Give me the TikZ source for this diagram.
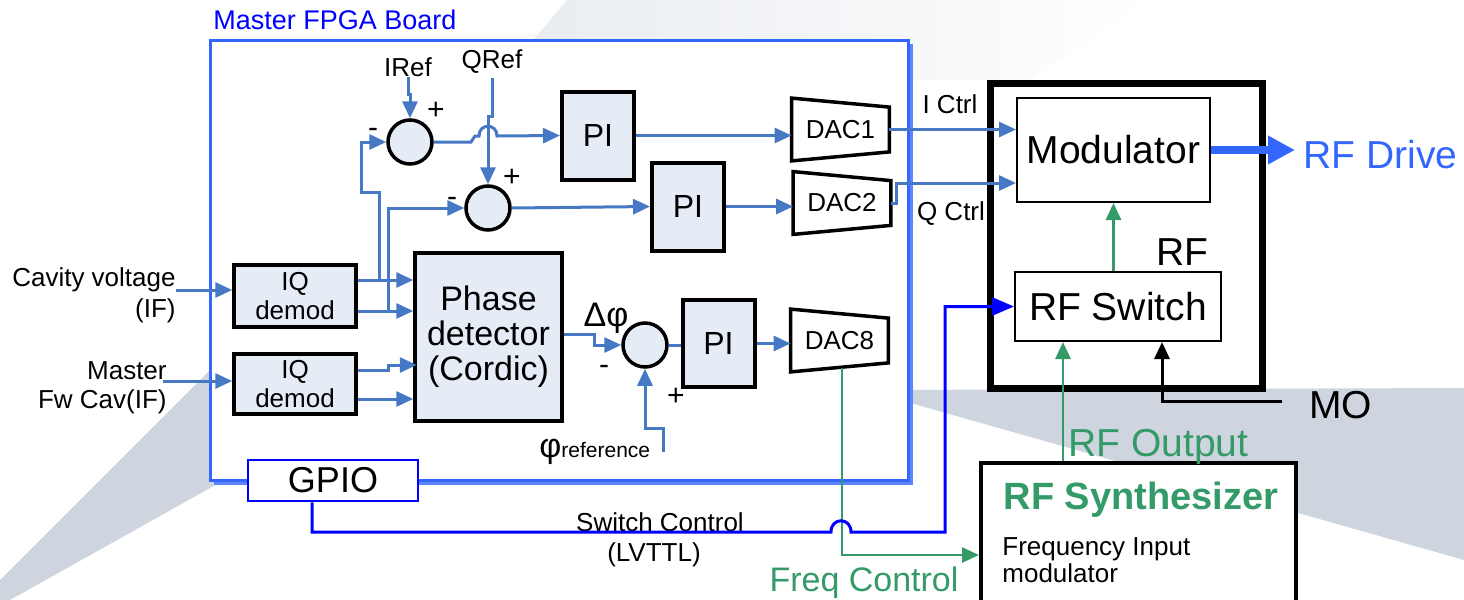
\documentclass[tikz,border=0pt]{standalone}
\usepackage{fontspec}
\setmainfont{Liberation Sans}
\usetikzlibrary{arrows.meta}
\usetikzlibrary{positioning}

\definecolor{sigblue}{RGB}{70,120,195}
\definecolor{boardblue}{RGB}{51,102,255}
\definecolor{ctrlblue}{RGB}{0,0,255}
\definecolor{rfgreen}{RGB}{52,154,103}
\definecolor{boxfill}{RGB}{230,236,246}
\definecolor{bggrey}{RGB}{206,213,223}

\begin{document}
\begin{tikzpicture}[x=0.5pt,y=-0.5pt,
  sig/.style={draw=sigblue,line width=1.5pt,-{Triangle[length=8.5pt,width=7.5pt]}},
  sigline/.style={draw=sigblue,line width=1.5pt},
  grn/.style={draw=rfgreen,line width=1.4pt,-{Triangle[length=8.5pt,width=7.5pt]}},
  blk/.style={draw=black,line width=1.5pt,-{Triangle[length=8.5pt,width=7.5pt]}},
  ctrl/.style={draw=ctrlblue,line width=1.5pt,-{Triangle[length=11pt,width=9pt]}},
  sumnode/.style={circle,draw,line width=1.75pt,fill=boxfill,minimum size=22pt,inner sep=0pt},
  piblock/.style={rectangle,draw,line width=2pt,fill=boxfill,minimum width=36pt,minimum height=44pt,inner sep=0pt,font=\fontsize{16}{18}\selectfont},
  dacblock/.style={rectangle,minimum width=48.5pt,minimum height=31pt,inner sep=0pt,font=\fontsize{13}{15}\selectfont},
  iqblock/.style={rectangle,draw,line width=1.75pt,fill=boxfill,minimum width=61pt,minimum height=31pt,inner sep=0pt,align=center,font=\fontsize{13}{14.5}\selectfont},
  whitebox/.style={rectangle,draw,line width=1pt,fill=white,inner sep=0pt,font=\fontsize{19.5}{22}\selectfont},
  lbl/.style={inner sep=0pt,font=\fontsize{13}{15}\selectfont},
  biglbl/.style={inner sep=0pt,font=\fontsize{19.5}{22}\selectfont},
  pm/.style={inner sep=0pt,font=\fontsize{15}{17}\selectfont}]
\useasboundingbox (0,0) rectangle (1464,600);

% slide background
\fill[bggrey] (0,580) -- (260,320) -- (260,460) -- (10,600) -- (0,600) -- cycle;
\fill[bggrey] (880,390) -- (1464,388) -- (1464,560) -- (900,400) -- cycle;
\shade[left color=bggrey!45,right color=white] (533,40) -- (567,0) -- (1150,0) -- (1030,80) -- (912,80) -- (912,40) -- cycle;

% FPGA board
\draw[boardblue!80,line width=1.5pt] (911.5,44) -- (911.5,483.5) -- (214,483.5);
\draw[boardblue,line width=1.5pt,fill=white] (210,40) rectangle (908,480);
\node[anchor=base west,inner sep=0pt,text=ctrlblue,font=\fontsize{13.5}{15}\selectfont] (title) at (213,29) {Master FPGA Board};
\node[draw=ctrlblue,line width=1.25pt,fill=white,minimum width=85pt,minimum height=20.5pt,inner sep=0pt,font=\fontsize{18}{20}\selectfont] (gpio) at (333,480.5) {GPIO};

% blocks
\node[iqblock] (iq1) at (295,296) {IQ\\demod};
\node[iqblock,minimum height=30pt] (iq2) at (295,384) {IQ\\demod};
\node[rectangle,draw,line width=1.75pt,fill=boxfill,minimum width=73.5pt,minimum height=84pt,inner sep=0pt,align=center,font=\fontsize{17}{17.5}\selectfont] (pd) at (488.5,337) {Phase\\detector\\(Cordic)};
\node[sumnode] (s1) at (410,142) {};
\node[sumnode] (s2) at (488,208) {};
\node[sumnode] (s3) at (645,345) {};
\node[piblock] (pi1) at (598,135.5) {PI};
\node[piblock] (pi2) at (688,206.5) {PI};
\node[piblock,minimum height=43.5pt] (pi3) at (718.5,343.5) {PI};
\node[dacblock] (dac1) at (840.5,129.5) {DAC1};
\node[dacblock] (dac2) at (842,203) {DAC2};
\node[dacblock] (dac8) at (839.5,340.5) {DAC8};
\foreach \d in {dac1,dac2,dac8}
  \draw[line width=1.75pt] (\d.north west) -- ([yshift=-4.5pt]\d.north east) -- ([yshift=4.5pt]\d.south east) -- (\d.south west) -- cycle;

% RF side
\node[draw,line width=3.5pt,minimum width=136pt,minimum height=152.5pt,inner sep=0pt] (rfbox) at (1126,235.5) {};
\node[whitebox,minimum width=96.5pt,minimum height=52pt] (mod) at (1113.5,150) {Modulator};
\node[whitebox,minimum width=103pt,minimum height=34.5pt] (sw) at (1118,306.5) {RF Switch};
\node[biglbl] (rflbl) at (1182,252) {RF};
\node[draw,line width=2pt,fill=white,minimum width=157.5pt,minimum height=76pt,inner sep=0pt] (synth) at (1138.5,539) {};
\node[inner sep=0pt,text=rfgreen,font=\bfseries\fontsize{19}{22}\selectfont] (synthname) at (1141,500) {RF Synthesizer};
\node[lbl,align=left,anchor=north west,font=\fontsize{13}{13.5}\selectfont] (synthsub) at (1002,537) {Frequency Input\\modulator};

% labels
\node[lbl,align=right,anchor=east,font=\fontsize{13}{15.5}\selectfont] (cav) at (176,295) {Cavity voltage\\(IF)};
\node[lbl,align=right,anchor=east,font=\fontsize{13}{14.5}\selectfont] (fw) at (167,388) {Master\\Fw Cav(IF)};
\node[lbl] (iref) at (408,67) {IRef};
\node[lbl] (qref) at (492,62) {QRef};
\node[pm] (p1) at (436,111) {+};
\node[pm] (m1) at (373,133) {-};
\node[pm] (p2) at (512,178) {+};
\node[pm] (m2) at (452,202) {-};
\node[pm] (m3) at (604,370) {-};
\node[pm] (p3) at (676,397) {+};
\node[inner sep=0pt,font=\fontsize{17}{19}\selectfont] (dphi) at (606,318) {Δφ};
\node[inner sep=0pt,anchor=base west,font=\fontsize{17}{19}\selectfont] (phiref) at (539,457) {φ{\fontsize{10.5}{12}\selectfont reference}};
\node[lbl] (ictrl) at (950,104) {I Ctrl};
\node[lbl] (qctrl) at (951,214) {Q Ctrl};
\node[lbl] (swctl) at (660,522) {Switch Control};
\node[lbl] (lvttl) at (654,555) {(LVTTL)};
\node[biglbl,text=boardblue,anchor=west] (rfd) at (1303,155) {RF Drive};
\node[biglbl,anchor=west] (mo) at (1309,405) {MO};
\node[biglbl,text=rfgreen,anchor=west] (rfout) at (1068,447) {RF Output};
\node[inner sep=0pt,text=rfgreen,font=\fontsize{17}{19}\selectfont] (fctl) at (864,583) {Freq Control};

% free ends
\coordinate (cavin) at (176,290);
\coordinate (fwin) at (163,381);
\coordinate (ibr) at (379,280);
\coordinate (qbr) at (388,311);
\coordinate (phin) at (663,452);
\coordinate (moin) at (1282,401);
\coordinate (fcin) at ([yshift=-47pt]synth.north west);

% signal paths
\draw[sig] (cavin) -- (cavin -| iq1.west);
\draw[sig] (fwin) -- (fwin -| iq2.west);
\draw[sig] ([yshift=8pt]iq1.east) -- ([yshift=8pt]iq1.east -| pd.west);
\draw[sig] ([yshift=-7.5pt]iq1.east) -- ([yshift=-7.5pt]iq1.east -| pd.west);
\draw[sig] ([yshift=7pt]iq2.east) -- ++(31,0) -- ++(0,-5) -- ++(28,0);
\draw[sig] ([yshift=-7.5pt]iq2.east) -- ([yshift=-7.5pt]iq2.east -| pd.west);
\draw[sig] (ibr) -- (379,192) -- (361,192) |- (s1.west);
\draw[sig] (qbr) |- (s2.west);
\draw[sig] (iref.south) -- ++(0,18) -| (s1.north);
\draw[sig] ([yshift=-2pt]qref.south) -- ++(0,38) -| (s2.north);
\draw[sig] (s1.east) -- (471,142) -- (475,136) -- (479,136) .. controls (479,123) and (497,123) .. (497,136) -- (pi1.west);
\draw[sig] (s2.east) -- (pi2.west);
\draw[sig] (pi1.east) -- (pi1.east -| dac1.west);
\draw[sig] (pi2.east) -- (pi2.east -| dac2.west);
\draw[sig] ([yshift=1.5pt]pd.east) -- ++(31,0) |- (s3.west);
\draw[sigline] (s3.east) -- (s3.east -| pi3.west);
\draw[sig] (phin) -- ++(0,-24) -| (s3.south);
\draw[sig] (pi3.east) -- (pi3.east -| dac8.west);
\draw[sig] (dac1.east) -- (dac1.east -| mod.west);
\draw[sig] (dac2.east) -- ++(6,0) |- ([yshift=10pt]mod.south west);

% RF paths
\draw[grn] (mod.south |- sw.north) -- (mod.south);
\draw[boardblue,line width=4pt,-{Triangle[length=13.5pt,width=13.5pt]}] (mod.east) -- ([xshift=-4pt]mod.east -| rfd.west);
\draw[blk] (moin) -| ([xshift=22pt]sw.south);
\draw[grn] ([xshift=-27.5pt]sw.south |- synth.north) -- ([xshift=-27.5pt]sw.south);
\draw[grn] ([xshift=1.25pt,yshift=2pt]dac8.south) |- (fcin);
\draw[ctrl] ([xshift=-10.5pt]gpio.south) |- (831,532) .. controls (831,517) and (851,517) .. (851,532) -- (945,532) |- (sw.west);

\end{tikzpicture}
\end{document}
